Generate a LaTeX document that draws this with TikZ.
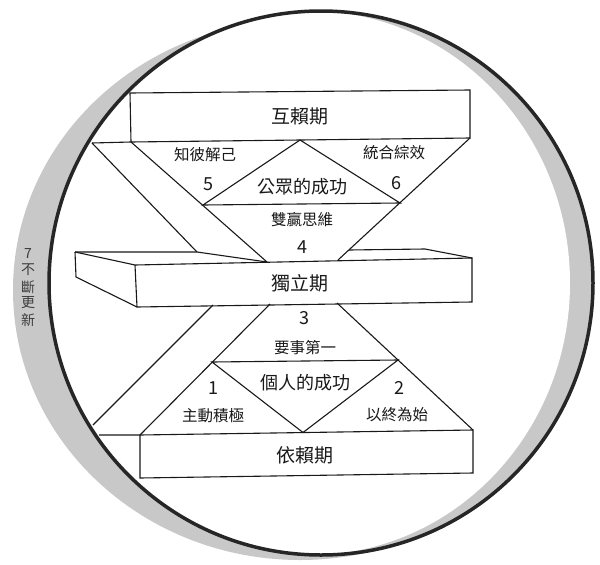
\documentclass[tikz,border=0pt]{standalone}
\usepackage{fontspec}
\setmainfont{Noto Sans CJK TC}
\definecolor{rim}{RGB}{200,200,200}
\definecolor{vtext}{RGB}{60,60,60}
\begin{document}
\begin{tikzpicture}[x=1pt,y=-1pt,
  ln/.style={line width=1.1pt, line join=miter, black!90},
  lbl/.style={inner sep=0pt, text=black!90},
  bigt/.style={lbl, font=\fontsize{19}{21}\selectfont},
  midt/.style={lbl, font=\fontsize{18}{20}\selectfont},
  smallt/.style={lbl, font=\fontsize{15.5}{17}\selectfont},
  numt/.style={lbl, font=\fontsize{18}{20}\selectfont},
  vt/.style={inner sep=0pt, text=vtext, font=\fontsize{14}{15}\selectfont}]
\useasboundingbox (0,0) rectangle (600,565);
% rim
\fill[rim] (300,290) ellipse[x radius=287pt, y radius=270pt];
\fill[rim] (321,283) circle[radius=272pt];
\begin{scope}
  \clip (321,283) circle[radius=272pt];
  \fill[white] (310,283) ellipse[x radius=260pt, y radius=272pt];
\end{scope}
% coordinates
\coordinate (tbTL) at (130,93);
\coordinate (tbTR) at (470,90);
\coordinate (tbBR) at (470,138);
\coordinate (tbBL) at (131,142);
\coordinate (tbX) at (92,143);
\coordinate (apexU) at (300,140);
\coordinate (baseUL) at (203,205);
\coordinate (baseUR) at (400,203);
\coordinate (diagUL) at (267,262);
\coordinate (diagUR) at (338,260);
\coordinate (bandU) at (197,252);
\coordinate (mBL1) at (75,252);
\coordinate (mBL2) at (76,277);
\coordinate (mTL) at (135,265);
\coordinate (mBLf) at (137,307);
\coordinate (mTR) at (472,258);
\coordinate (mBR) at (472,302);
\coordinate (mBackR1) at (349,250);
\coordinate (mBackR2) at (425,249);
\coordinate (bandL) at (213,305);
\coordinate (bandLX) at (93,425);
\coordinate (diagLL) at (270,304);
\coordinate (diagLR) at (337,303);
\coordinate (baseLL) at (212,362);
\coordinate (baseLR) at (398,360);
\coordinate (apexL) at (303,432.5);
\coordinate (bbTL) at (140,435);
\coordinate (bbTR) at (473,430);
\coordinate (bbBR) at (473,473);
\coordinate (bbBL) at (140,478);
\coordinate (bbX) at (99,435);
% upper part
\draw[ln] (tbX) -- (tbBL) -- (tbBR) -- (tbTR) -- (tbTL) -- (tbBL);
\draw[ln] (tbBL) -- (diagUL);
\draw[ln] (tbBR) -- (diagUR);
\draw[ln] (tbX) -- (bandU);
\draw[ln] (baseUL) -- (apexU) -- (baseUR) -- cycle;
% middle box
\draw[ln] (mBL1) -- (bandU) -- (diagUL);
\draw[ln] (mBL1) -- (mTL) -- (mTR) -- (mBR) -- (mBLf) -- (mTL);
\draw[ln] (mBL1) -- (mBL2) -- (mBLf);
\draw[ln] (mBackR1) -- (mBackR2) -- (mTR);
% lower part
\draw[ln] (bandL) -- (bandLX);
\draw[ln] (diagLL) -- (bbTL);
\draw[ln] (diagLR) -- (bbTR);
\draw[ln] (baseLL) -- (baseLR) -- (apexL) -- cycle;
\draw[ln] (bbX) -- (bbTL) -- (bbTR) -- (bbBR) -- (bbBL) -- (bbTL);
% black ring
\draw[line width=3.5pt, black!85] (321,283) circle[radius=272pt];
% texts
\node[bigt] (t1) at (300,116) {互賴期};
\node[smallt] (t2) at (205,155) {知彼解己};
\node[numt] (t3) at (208,184) {5};
\node[midt] (t4) at (302,187) {公眾的成功};
\node[smallt] (t5) at (394,153) {統合綜效};
\node[numt] (t6) at (396,183) {6};
\node[smallt] (t7) at (302,220) {雙贏思維};
\node[numt] (t8) at (302,247) {4};
\node[bigt] (t9) at (300,283) {獨立期};
\node[numt] (t10) at (304,318) {3};
\node[smallt] (t11) at (305,348) {要事第一};
\node[midt] (t12) at (305,383) {個人的成功};
\node[numt] (t13) at (213,388) {1};
\node[smallt] (t14) at (213,416) {主動積極};
\node[numt] (t15) at (399,388) {2};
\node[smallt] (t16) at (397,415) {以終為始};
\node[bigt] (t17) at (305,455) {依賴期};
\node[vt] (v1) at (28,254) {7};
\node[vt] (v2) at (28,270) {不};
\node[vt] (v3) at (28,287) {斷};
\node[vt] (v4) at (28,303) {更};
\node[vt] (v5) at (28,320) {新};
\end{tikzpicture}
\end{document}
